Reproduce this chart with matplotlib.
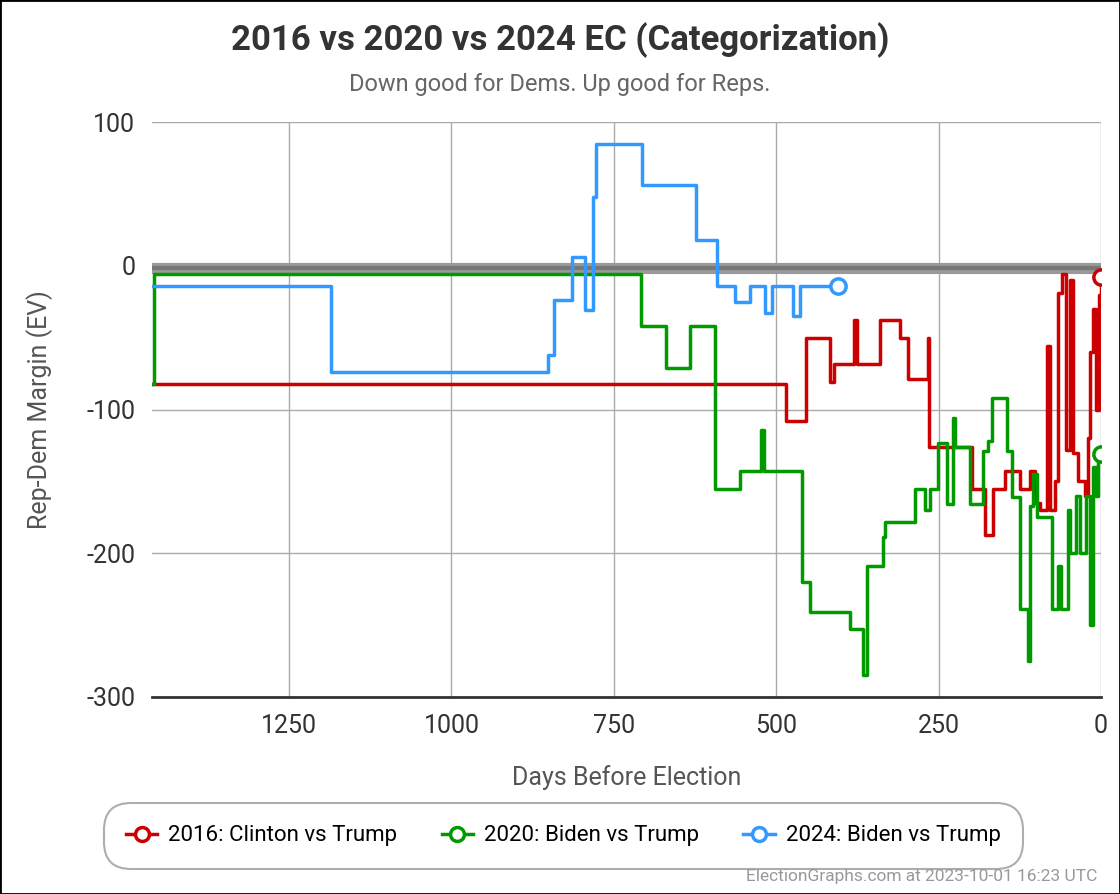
import matplotlib.pyplot as plt

plt.rcParams['font.family'] = ['Roboto', 'DejaVu Sans']
plt.rcParams['axes.unicode_minus'] = False

# (days before election, rep-dem margin) steps
days16 = [1461, 485, 454, 417, 411, 380, 376, 340, 309, 297, 266, 265, 199, 179, 166, 148, 125, 109,
          102, 94, 83, 79, 71, 66, 60, 54, 48, 43, 35, 25, 20, 17, 12, 8, 3, 0]
ev16 = [-82, -108, -50, -81, -68, -38, -68, -38, -50, -79, -50, -126, -155, -187, -155, -143, -155, -143,
        -165, -170, -56, -170, -150, -19, -6, -128, -10, -130, -150, -160, -120, -60, -30, -100, -20, -8]

days20 = [1461, 1458, 708, 670, 632, 594, 556, 523, 519, 460, 448, 386, 366, 360, 336, 332, 286, 271,
          263, 251, 237, 228, 225, 202, 182, 174, 168, 145, 137, 125, 112, 109, 105, 99, 75, 66, 62,
          51, 48, 38, 32, 23, 17, 12, 8, 5, 0]
ev20 = [-82, -6, -42, -71, -42, -155, -143, -114, -143, -220, -241, -253, -285, -209, -189, -178, -155, -170,
        -155, -123, -166, -106, -126, -166, -129, -122, -92, -129, -161, -239, -275, -167, -145, -175, -239,
        -209, -239, -170, -200, -160, -200, -160, -250, -140, -160, -131, -131]

days24 = [1461, 1185, 851, 842, 814, 794, 782, 777, 707, 623, 591, 563, 540, 517, 506, 474, 463, 405]
ev24 = [-14, -74, -62, -24, 6, -31, 48, 85, 56, 18, -14, -25, -14, -33, -14, -35, -14, -14]

fig = plt.figure(figsize=(11.2, 8.94), dpi=100)
ax = fig.add_axes([152/1120, 1-697/894, (1101-152)/1120, (697-122)/894])

ax.axhline(-1.5, color='#999999', lw=8, zorder=1)
ax.axhline(-1.5, color='#777777', lw=3, zorder=1)
for d, v, c, lab in [(days16, ev16, '#cc0000', '2016: Clinton vs Trump'),
                     (days20, ev20, '#009900', '2020: Biden vs Trump'),
                     (days24, ev24, '#3399ff', '2024: Biden vs Trump')]:
    ax.plot(d, v, drawstyle='steps-post', color=c, lw=2.5, zorder=3)
    ax.plot(d[-1], v[-1], 'o', ms=11, mfc='white', mec=c, mew=2.5, zorder=4)
    ax.plot([], [], '-o', color=c, lw=2.5, ms=10, mfc='white', mec=c, mew=2.5, label=lab)

ax.set_xlim(1461, 0)
ax.set_ylim(-300, 100)
ax.set_xticks([1250, 1000, 750, 500, 250, 0])
ax.set_yticks([100, 0, -100, -200, -300])
ax.grid(True, color='#aaaaaa', lw=1)
ax.set_axisbelow(True)
for s in ['top', 'right', 'left']:
    ax.spines[s].set_visible(False)
ax.spines['bottom'].set_color('#333333')
ax.spines['bottom'].set_linewidth(2)
ax.tick_params(length=0, labelsize=18, colors='#333333', pad=12)
ax.set_xlabel('Days Before Election', fontsize=18, color='#555555', labelpad=20)
ax.set_ylabel('Rep-Dem Margin (EV)', fontsize=18, color='#555555', labelpad=24)

fig.text(0.5, 1-40/894, '2016 vs 2020 vs 2024 EC (Categorization)', ha='center', va='center',
         fontsize=25, fontweight='bold', color='#333333')
fig.text(0.5, 1-84/894, 'Down good for Dems. Up good for Reps.', ha='center', va='center',
         fontsize=17, color='#666666')
leg = fig.legend(loc='center', bbox_to_anchor=(0.503, 1-836/894), ncol=3, fontsize=16,
                 frameon=True, fancybox=True, edgecolor='#999999', borderpad=0.8,
                 handlelength=1.4, handletextpad=0.5, columnspacing=2.0)
leg.get_frame().set_linewidth(1.5)
leg.get_frame().set_boxstyle('round', pad=0.2, rounding_size=1.2)
fig.text(0.98, 1-877/894, 'ElectionGraphs.com at 2023-10-01 16:23 UTC', ha='right', va='center',
         fontsize=12.5, color='#999999')
fig.add_artist(plt.Rectangle((0, 0), 1, 1, transform=fig.transFigure, fill=False,
                             edgecolor='black', lw=2))
fig.savefig('out.png', dpi=100)
